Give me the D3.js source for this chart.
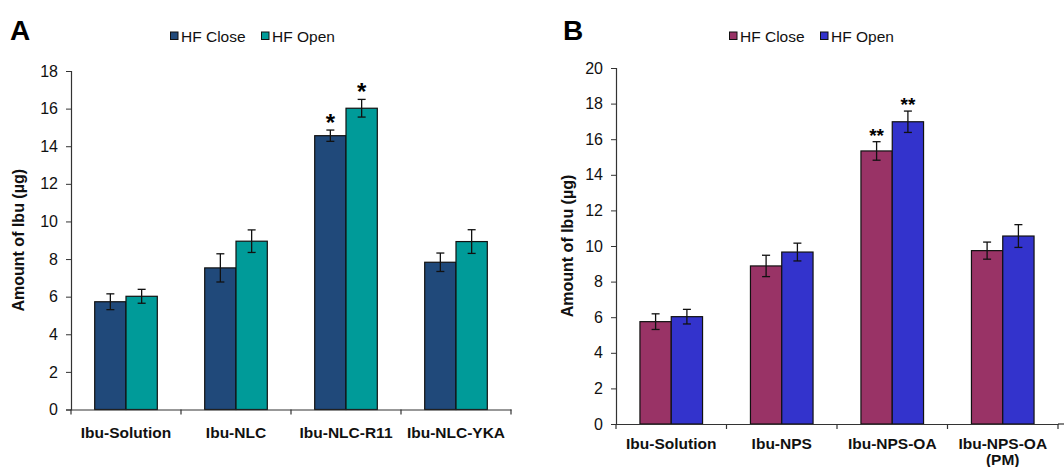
<!DOCTYPE html>
<html>
<head>
  <script src="https://d3js.org/d3.v7.min.js"></script>
  <style>
    body { margin: 0; background: #fff; font-family: "Liberation Sans", Arial, sans-serif; }
  </style>
</head>
<body>
<svg id="chart" width="1064" height="467"></svg>
<script>
  const seriesNames = ["HF Close", "HF Open"];

  const catsA = ["Ibu-Solution", "Ibu-NLC", "Ibu-NLC-R11", "Ibu-NLC-YKA"];
  const closeA = [5.73, 7.53, 14.56, 7.83];
  const openA = [6.02, 8.95, 16.02, 8.93];
  const closeErrA = [0.42, 0.75, 0.3, 0.49];
  const openErrA = [0.37, 0.6, 0.47, 0.63];
  const starsA = ["", "", "*", ""];
  const starsOpenA = ["", "", "*", ""];
  const ticksA = [0, 2, 4, 6, 8, 10, 12, 14, 16, 18];

  const catsB = ["Ibu-Solution", "Ibu-NPS", "Ibu-NPS-OA", "Ibu-NPS-OA\n(PM)"];
  const closeB = [5.75, 8.88, 15.34, 9.74];
  const openB = [6.03, 9.66, 16.98, 10.56];
  const closeErrB = [0.44, 0.6, 0.52, 0.48];
  const openErrB = [0.41, 0.5, 0.6, 0.64];
  const starsB = ["", "", "**", ""];
  const starsOpenB = ["", "", "**", ""];
  const ticksB = [0, 2, 4, 6, 8, 10, 12, 14, 16, 18, 20];

  const svg = d3.select("#chart");

  function panel(opt) {
    const g = svg.append("g");
    const x = d3.scaleBand().domain(opt.cats).range([opt.x0, opt.x1]);
    const sub = d3.scaleBand().domain(seriesNames).range([0, 62.6]);
    const y = d3.scaleLinear().domain([0, opt.ymax]).range([opt.y0, opt.y1]);
    const off = (x.bandwidth() - 62.6) / 2;

    // y axis
    const ya = g.append("g").attr("transform", `translate(${opt.x0},0)`)
      .call(d3.axisLeft(y).tickValues(opt.ticks).tickSize(5).tickPadding(8));
    ya.select(".domain").attr("stroke", "#333").attr("stroke-width", 1.2);
    ya.selectAll(".tick line").attr("stroke", "#333");
    ya.selectAll("text").attr("font-size", 16).attr("fill", "#111")
      .attr("font-family", "Liberation Sans, Arial, sans-serif");

    const rows = opt.cats.map((c, i) => ({ c, i }));
    const vals = [opt.close, opt.open];
    const errs = [opt.closeErr, opt.openErr];
    const stars = [opt.starsC, opt.starsO];

    seriesNames.forEach((s, k) => {
      const bx = d => x(d.c) + off + sub(s);
      g.selectAll(null).data(rows).enter().append("rect")
        .attr("x", bx)
        .attr("y", d => y(vals[k][d.i]))
        .attr("width", sub.bandwidth())
        .attr("height", d => y(0) - y(vals[k][d.i]))
        .attr("fill", opt.colors[k])
        .attr("stroke", "#111").attr("stroke-width", 1.2);
      const cx = d => bx(d) + sub.bandwidth() / 2;
      const eg = g.selectAll(null).data(rows).enter().append("g")
        .attr("stroke", "#111").attr("stroke-width", 1.3);
      eg.append("line").attr("x1", cx).attr("x2", cx)
        .attr("y1", d => y(vals[k][d.i] + errs[k][d.i]))
        .attr("y2", d => y(vals[k][d.i] - errs[k][d.i]));
      [1, -1].forEach(sg => {
        eg.append("line").attr("x1", d => cx(d) - 4).attr("x2", d => cx(d) + 4)
          .attr("y1", d => y(vals[k][d.i] + sg * errs[k][d.i]))
          .attr("y2", d => y(vals[k][d.i] + sg * errs[k][d.i]));
      });
      g.selectAll(null).data(rows.filter(d => stars[k][d.i])).enter().append("text")
        .attr("x", cx)
        .attr("y", d => y(vals[k][d.i] + errs[k][d.i]) + opt.starDy)
        .attr("text-anchor", "middle")
        .attr("font-size", opt.starSize).attr("font-weight", "bold")
        .text(d => stars[k][d.i]);
    });

    // x axis
    const xa = g.append("g").attr("transform", `translate(0,${opt.y0})`)
      .call(d3.axisBottom(x).tickSize(0).tickFormat(""));
    xa.select(".domain").attr("stroke", "#333").attr("stroke-width", 1.2);
    const edges = opt.cats.map(c => x(c)).concat([opt.x1]);
    g.selectAll(null).data(edges).enter().append("line")
      .attr("x1", d => d).attr("x2", d => d)
      .attr("y1", opt.y0).attr("y2", opt.y0 + 5)
      .attr("stroke", "#333").attr("stroke-width", 1.2);
    if (opt.axisEnd) {
      g.append("line").attr("x1", opt.x1).attr("x2", opt.axisEnd)
        .attr("y1", opt.y0).attr("y2", opt.y0).attr("stroke", "#333").attr("stroke-width", 1.2);
    }
    const lab = g.selectAll(null).data(opt.cats).enter().append("text")
      .attr("x", d => x(d) + x.bandwidth() / 2)
      .attr("y", opt.y0 + opt.labDy)
      .attr("text-anchor", "middle")
      .attr("font-size", 15.5).attr("font-weight", "bold").attr("fill", "#111");
    lab.each(function(d) {
      d.split("\n").forEach((t, j) => {
        d3.select(this).append("tspan")
          .attr("x", x(d) + x.bandwidth() / 2)
          .attr("dy", j ? 16 : 0).text(t);
      });
    });

    // y title
    g.append("text")
      .attr("transform", `translate(${opt.titleX},${(opt.y0 + opt.y1) / 2}) rotate(-90)`)
      .attr("text-anchor", "middle").attr("font-size", 16).attr("font-weight", "bold")
      .attr("fill", "#111")
      .text("Amount of Ibu (\u00b5g)");

    // panel letter
    g.append("text").attr("x", opt.letterX).attr("y", 40)
      .attr("font-size", 28).attr("font-weight", "bold").text(opt.letter);

    // legend
    const lg = g.append("g").attr("transform", `translate(${opt.legX},36)`);
    const legPos = [0, opt.legGap];
    seriesNames.forEach((s, k) => {
      lg.append("rect").attr("x", legPos[k]).attr("y", -4)
        .attr("width", 7.5).attr("height", 7.5)
        .attr("fill", opt.colors[k]).attr("stroke", "#111").attr("stroke-width", 1);
      lg.append("text").attr("x", legPos[k] + 10.5).attr("y", 5.5)
        .attr("font-size", 15.5).attr("fill", "#111").text(s);
    });
  }

  panel({
    cats: catsA, close: closeA, open: openA, closeErr: closeErrA, openErr: openErrA,
    starsC: starsA, starsO: starsOpenA, ticks: ticksA, ymax: 18,
    x0: 71, x1: 511, y0: 409.5, y1: 71, colors: ["#20497a", "#009b99"],
    titleX: 24, letter: "A", letterX: 10, legX: 170.5, legGap: 91,
    starSize: 24, starDy: 1, labDy: 28
  });

  panel({
    cats: catsB, close: closeB, open: openB, closeErr: closeErrB, openErr: openErrB,
    starsC: starsB, starsO: starsOpenB, ticks: ticksB, ymax: 20,
    x0: 616, x1: 1058, y0: 424, y1: 68, colors: ["#993366", "#3333cc"],
    titleX: 573, letter: "B", letterX: 563, legX: 729.5, legGap: 91,
    starSize: 19, starDy: 0, labDy: 25,
    axisEnd: 1064
  });
</script>
</body>
</html>
